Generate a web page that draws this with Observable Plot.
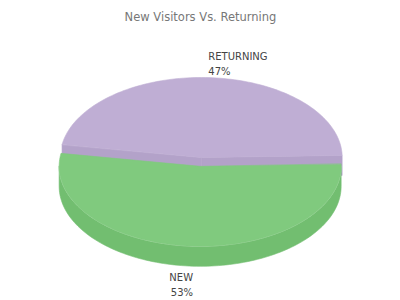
<!DOCTYPE html>
<html><head><meta charset="utf-8">
<script src="https://cdn.jsdelivr.net/npm/d3@7"></script>
<script src="https://cdn.jsdelivr.net/npm/@observablehq/plot@0.6"></script>
<style>body{margin:0;background:#fff;} svg{display:block;}</style>
</head><body><div id="chart"></div>
<script>
// ---- data ----
const title = "New Visitors Vs. Returning";
const categories = ["RETURNING", "NEW"];
const shares = [47, 53];
const topColors = ["#bfaed4", "#80ca7e"];
const sideColors = ["#b3a2c9", "#72be70"];
const explode = [0, 0.11];

// ---- geometry (style) ----
const W = 400, H = 300;
const cx = 200.7, cy = 157, rx = 141, ry = 80, depth = 20, startDeg = 1.5;
const total = d3.sum(shares);
const rad = d => d * Math.PI / 180;

let acc = startDeg;
const slices = shares.map((v, i) => {
  const a0 = acc, a1 = acc + v / total * 360; acc = a1;
  const mid = (a0 + a1) / 2;
  return {i, a0, a1, mid,
    cx: cx + explode[i] * rx * Math.cos(rad(mid)),
    cy: cy - explode[i] * ry * Math.sin(rad(mid))};
});
const pt = (s, deg, dz = 0) => ({x: s.cx + rx * Math.cos(rad(deg)), y: s.cy - ry * Math.sin(rad(deg)) + dz});
const arc = (s, from, to, dz = 0) => {
  const n = Math.max(2, Math.ceil(Math.abs(to - from) / 1.5));
  return d3.range(n + 1).map(k => pt(s, from + (to - from) * k / n, dz));
};
const c = (s, dz = 0) => ({x: s.cx, y: s.cy + dz});

const marks = [];
const poly = (pts, fill, stroke) => marks.push(Plot.line(pts, {x: "x", y: "y", fill, stroke: stroke || fill, strokeWidth: 0.6, curve: "linear-closed"}));

// painter order: back slices first
const order = slices.slice().sort((a, b) => Math.sin(rad(b.mid)) - Math.sin(rad(a.mid)));
for (const s of order) {
  const side = sideColors[s.i], top = topColors[s.i];
  // radial walls
  if (Math.cos(rad(s.a0)) > 0) poly([c(s), pt(s, s.a0), pt(s, s.a0, depth), c(s, depth)], side);
  if (Math.cos(rad(s.a1)) < 0) poly([c(s), pt(s, s.a1), pt(s, s.a1, depth), c(s, depth)], side);
  // outer wall (front half)
  for (const [lo, hi] of [[-180, 0], [180, 360], [540, 720]]) {
    const f = Math.max(s.a0, lo), t = Math.min(s.a1, hi);
    if (t > f) {
      const upper = arc(s, f, t), lower = arc(s, t, f, depth);
      poly(upper.concat(lower), side);
      marks.push(Plot.line(upper, {x: "x", y: "y", stroke: "#ffffff", strokeOpacity: 0.35, strokeWidth: 1}));
    }
  }
  // top face
  poly([c(s)].concat(arc(s, s.a0, s.a1)), top);
}

// labels
const labels = slices.map(s => {
  const front = Math.sin(rad(s.mid)) < 0;
  const p = pt(s, s.mid, front ? depth : 0);
  return {x: p.x, y: p.y, front, right: Math.cos(rad(s.mid)) >= 0,
          text: categories[s.i] + "\n" + shares[s.i] + "%"};
});
for (const L of labels) {
  marks.push(Plot.text([L], {x: "x", y: "y", text: "text",
    textAnchor: L.right ? "start" : "end",
    lineAnchor: L.front ? "top" : "bottom",
    dx: L.right ? -2.5 : 2.5, dy: L.front ? 4 : -3,
    lineHeight: 1.5, fontSize: 10, fill: "#444", fontFamily: "DejaVu Sans"}));
}
marks.push(Plot.text([title], {frameAnchor: "top", dy: 12, text: d => d, fontSize: 11.5, fill: "#777", fontFamily: "DejaVu Sans", lineAnchor: "top"}));

const chart = Plot.plot({
  width: W, height: H, margin: 0,
  x: {domain: [0, W], range: [0, W], axis: null},
  y: {domain: [0, H], range: [0, H], axis: null},
  style: {background: "#fff"},
  marks
});
document.getElementById("chart").append(chart);
</script>
</body></html>
